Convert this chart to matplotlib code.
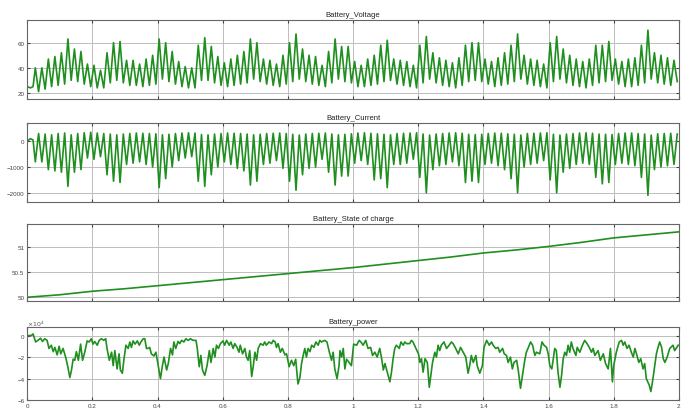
import numpy as np
from matplotlib import pyplot as plt

# Battery scope traces

# voltage: start, then peaks at 0.025 + 0.02k and troughs in between
v_start = [25, 24, 25]
v_peaks = [40, 40, 47, 49, 52, 63, 55, 53, 43,
           42, 38, 52, 60, 61, 46, 46, 43, 47, 50, 63, 60, 53, 45, 41, 40, 58, 64, 57, 49,
           44, 47, 50, 53, 63, 60, 47, 46, 43, 50, 60, 67, 55, 50, 49, 42, 53, 63, 57, 57,
           45, 42, 47, 50, 58, 62, 47, 46, 45, 42, 58, 65, 52, 48, 46, 44, 48, 58, 60, 60,
           47, 45, 48, 52, 58, 67, 50, 47, 46, 43, 60, 65, 55, 50, 47, 45, 47, 58, 58, 61,
           47, 45, 47, 48, 58, 70, 52, 50, 48, 46]
v_troughs = [21, 23, 25, 26, 27, 30, 29, 27, 25,
             24, 24, 28, 30, 28, 26, 26, 25, 26, 27, 31, 29, 27, 25, 24, 24, 30, 30, 28, 26,
             25, 26, 27, 28, 31, 29, 27, 26, 25, 27, 29, 31, 29, 27, 26, 25, 28, 31, 29, 28,
             25, 25, 26, 27, 29, 30, 27, 26, 25, 24, 28, 31, 28, 26, 25, 24, 26, 29, 30, 29,
             27, 25, 26, 27, 29, 31, 27, 26, 25, 24, 29, 31, 28, 26, 25, 24, 26, 28, 29, 30,
             27, 25, 25, 26, 28, 31, 28, 27, 26, 29]

# current: minima line up with voltage peaks, maxima with voltage troughs
i_start = [0, 100, 50]
i_mins = [-800, -800, -1100, -1150, -1200, -1750, -1200, -1100, -650,
          -700, -600, -1300, -1550, -1600, -900, -850, -800, -900, -1000, -1800, -1450, -1000, -750, -650, -600, -1550, -1750, -1300, -1000,
          -800, -900, -1050, -1150, -1700, -1550, -900, -850, -750, -1050, -1550, -1900, -1300, -1050, -1000, -700, -1200, -1700, -1350, -1350,
          -850, -750, -900, -1500, -1450, -1800, -900, -900, -850, -700, -1400, -2000, -1100, -950, -900, -800, -950, -1600, -1550, -1600,
          -900, -850, -950, -1100, -1450, -2000, -1000, -900, -850, -750, -1500, -2000, -1200, -1050, -900, -850, -900, -1400, -1650, -1600,
          -900, -850, -900, -950, -1400, -2100, -1100, -1000, -950, -900]
i_maxs = [300, 280, 250, 300, 320, 250, 300, 330, 350,
          320, 300, 280, 250, 280, 300, 320, 310, 300, 290, 250, 270, 300, 320, 330, 320, 260, 250, 280, 300,
          320, 310, 300, 280, 250, 270, 300, 310, 320, 300, 270, 240, 280, 300, 310, 320, 280, 250, 270, 290,
          320, 330, 310, 290, 270, 250, 300, 310, 320, 330, 280, 240, 280, 300, 320, 330, 310, 270, 260, 270,
          300, 320, 310, 290, 270, 240, 300, 310, 320, 330, 270, 240, 280, 300, 320, 330, 310, 280, 270, 260,
          300, 320, 320, 300, 280, 240, 290, 300, 310, 280]

# state of charge every 0.1 s
soc_t = np.arange(0, 2.01, 0.1)
soc = [50.0, 50.05, 50.12, 50.17, 50.23, 50.29, 50.35, 50.41, 50.47, 50.53, 50.59,
       50.66, 50.73, 50.80, 50.88, 50.94, 51.01, 51.09, 51.18, 51.24, 51.30]

# power (x1e4)
pw_t = [0, 0.013, 0.018, 0.026, 0.033, 0.041, 0.047, 0.054, 0.061, 0.067, 0.074, 0.080, 0.085, 0.092,
        0.098, 0.103, 0.110, 0.118, 0.124, 0.131, 0.136, 0.141, 0.146, 0.151, 0.157, 0.164, 0.170, 0.177,
        0.184, 0.190, 0.197, 0.202, 0.207, 0.215, 0.221, 0.228, 0.235, 0.241, 0.245, 0.252, 0.259, 0.264,
        0.269, 0.276, 0.282, 0.286, 0.292, 0.297, 0.303, 0.310, 0.315, 0.320, 0.325, 0.331, 0.338, 0.344,
        0.349, 0.356, 0.361, 0.366, 0.371, 0.376, 0.381, 0.389, 0.395, 0.402, 0.409, 0.415, 0.420, 0.428,
        0.433, 0.440, 0.446, 0.450, 0.456, 0.463, 0.468, 0.474, 0.481, 0.487, 0.494, 0.501, 0.509, 0.518,
        0.522, 0.528, 0.533, 0.538, 0.545, 0.552, 0.559, 0.564, 0.571, 0.576, 0.581, 0.587, 0.593, 0.601,
        0.606, 0.612, 0.620, 0.625, 0.632, 0.637, 0.644, 0.650, 0.654, 0.661, 0.668, 0.673, 0.678, 0.683,
        0.689, 0.694, 0.699, 0.704, 0.709, 0.716, 0.724, 0.729, 0.734, 0.742, 0.750, 0.755, 0.761, 0.765,
        0.770, 0.777, 0.783, 0.791, 0.796, 0.804, 0.811, 0.818, 0.824, 0.831, 0.837, 0.842, 0.847, 0.852,
        0.857, 0.862, 0.868, 0.873, 0.880, 0.886, 0.893, 0.898, 0.903, 0.913, 0.920, 0.927, 0.934, 0.939,
        0.944, 0.951, 0.957, 0.960, 0.965, 0.970, 0.975, 0.980, 0.988, 0.995, 1.002,
        1.011, 1.019, 1.024, 1.031, 1.039, 1.046, 1.054, 1.060, 1.067, 1.074, 1.082, 1.087, 1.093, 1.098,
        1.105, 1.113, 1.118, 1.123, 1.128, 1.133, 1.142, 1.147, 1.154, 1.159, 1.164, 1.174, 1.179, 1.184,
        1.193, 1.201, 1.205, 1.210, 1.215, 1.221, 1.228, 1.234, 1.238, 1.244, 1.251, 1.256, 1.261, 1.266,
        1.271, 1.279, 1.287, 1.295, 1.302, 1.307, 1.315, 1.323, 1.330, 1.338, 1.346, 1.353, 1.358, 1.363,
        1.369, 1.377, 1.381, 1.389, 1.397, 1.402, 1.410, 1.418, 1.425, 1.430, 1.438, 1.445, 1.450, 1.459,
        1.464, 1.471, 1.476, 1.483, 1.489, 1.494, 1.502, 1.507, 1.514, 1.520, 1.527, 1.532, 1.538, 1.545,
        1.551, 1.558, 1.563, 1.573, 1.580, 1.586, 1.594, 1.599, 1.604, 1.610, 1.614, 1.619, 1.624, 1.629,
        1.635, 1.640, 1.645, 1.650, 1.655, 1.660, 1.665, 1.670, 1.675, 1.684, 1.688, 1.696, 1.704, 1.711,
        1.718, 1.725, 1.732, 1.737, 1.742, 1.752, 1.759, 1.768, 1.775, 1.783, 1.790, 1.796, 1.800, 1.808,
        1.817, 1.824, 1.829, 1.834, 1.841, 1.847, 1.854, 1.860, 1.865, 1.870, 1.877, 1.883, 1.890, 1.895,
        1.900, 1.909, 1.914, 1.919, 1.926, 1.931, 1.936, 1.941, 1.947, 1.952, 1.957, 1.964, 1.972, 1.982,
        1.987, 1.998]
pw_v = [0, 0, 0.15, -0.6, -0.45, -0.25, -0.55, -0.3, -0.45, -1.2, -0.9, -1.5, -1.1, -1.8,
        -1.0, -1.7, -1.2, -2.0, -2.8, -3.9, -3.2, -2.2, -2.3, -1.5, -2.3, -0.8, -2.3, -1.5,
        -0.5, -0.6, -0.3, -0.8, -0.55, -0.9, -0.45, -0.3, -0.45, -0.3, -1.2, -2.3, -1.55, -2.8,
        -1.4, -3.1, -1.7, -3.2, -3.5, -2.2, -0.9, -1.2, -0.6, -1.1, -0.5, -0.8, -0.5, -0.9,
        -0.6, -0.3, -0.3, -1.2, -1.2, -1.1, -1.7, -1.9, -1.55, -2.8, -4.0, -2.8, -2.0, -3.2,
        -2.6, -1.2, -1.8, -0.6, -1.2, -0.55, -0.75, -0.45, -0.6, -0.3, -0.45, -0.3, -0.45, -0.45,
        -1.2, -2.9, -1.85, -3.2, -3.7, -2.8, -1.4, -2.5, -1.2, -2.0, -0.9, -1.2, -0.75, -0.5,
        -0.9, -0.45, -0.9, -0.6, -1.2, -0.75, -1.1, -1.55, -0.9, -1.7, -1.2, -2.0, -2.3, -1.4,
        -3.8, -2.8, -1.55, -2.3, -1.2, -0.75, -0.9, -0.6, -0.9, -0.6, -0.75, -0.45, -0.6, -1.1,
        -0.75, -1.55, -1.2, -1.8, -1.7, -2.9, -2.3, -2.8, -2.2, -4.5, -3.9, -2.6, -1.85, -1.2,
        -2.0, -1.2, -1.5, -0.9, -1.1, -0.6, -0.9, -0.45, -0.6, -0.45, -0.6, -1.5, -2.3, -1.55,
        -3.1, -4.0, -2.8, -1.4, -2.0, -1.2, -3.1, -2.2, -2.5, -2.8, -0.8,
        -0.9, -0.45, -0.6, -0.9, -0.45, -1.2, -1.1, -1.85, -1.55, -2.0, -1.2, -2.0, -3.2, -2.6,
        -3.4, -4.3, -3.4, -2.15, -1.2, -0.9, -1.2, -0.6, -0.9, -0.6, -0.75, -0.75, -0.45, -0.6,
        -1.2, -1.7, -2.5, -2.15, -3.4, -2.15, -2.5, -4.8, -3.85, -2.5, -1.55, -2.0, -0.9, -1.4,
        -0.9, -0.6, -1.2, -0.9, -0.6, -0.75, -1.2, -1.7, -1.1, -1.55, -2.0, -3.5, -2.8, -1.85,
        -2.5, -1.85, -2.8, -3.5, -2.8, -1.1, -0.45, -0.9, -0.6, -0.9, -1.2, -1.1, -1.55, -1.2,
        -1.7, -1.85, -2.5, -2.0, -3.1, -2.5, -2.3, -3.2, -4.9, -3.7, -2.3, -1.55, -1.1, -0.6,
        -0.9, -1.85, -1.55, -1.7, -0.6, -0.9, -1.1, -1.7, -2.8, -3.1, -2.3, -1.2, -1.4, -3.4,
        -4.8, -3.7, -2.15, -1.55, -1.85, -0.9, -1.55, -0.6, -1.2, -1.85, -1.1, -1.55, -0.9, -0.45,
        -0.75, -1.1, -1.55, -1.2, -1.85, -1.4, -2.3, -1.7, -2.6, -3.1, -1.2, -4.3, -2.8, -1.55,
        -0.6, -0.45, -0.9, -0.6, -1.2, -0.9, -1.55, -2.0, -1.2, -1.7, -2.5, -2.15, -3.1, -2.6,
        -4.0, -4.6, -5.2, -4.3, -2.8, -1.7, -1.1, -0.6, -1.1, -2.15, -2.5, -2.0, -1.2, -0.9,
        -1.4, -0.9]

# build the alternating extrema sequences
ext_t = np.arange(len(v_peaks) * 2) * 0.01 + 0.025
v_ext = np.ravel(np.column_stack([v_peaks, v_troughs]))
i_ext = np.ravel(np.column_stack([i_mins, i_maxs]))
start_t = [0, 0.01, 0.018]
volt_t = np.concatenate([start_t, ext_t])
volt = np.concatenate([v_start, v_ext])
curr = np.concatenate([i_start, i_ext])

green = '#1f8f1f'
plt.rcParams['font.family'] = ['Liberation Sans', 'DejaVu Sans']

fig = plt.figure(figsize=(6.97, 4.14), dpi=100)
left, width = 0.039, 0.935
rows = [(0.758, 0.191), (0.510, 0.190), (0.271, 0.186), (0.031, 0.177)]
titles = ['Battery_Voltage', 'Battery_Current', 'Battery_State of charge', 'Battery_power']
axes = [fig.add_axes([left, b, width, h]) for b, h in rows]

axes[0].plot(volt_t, volt, color=green, lw=1.2)
axes[0].set_ylim(15, 78)
axes[0].set_yticks([20, 40, 60])

axes[1].plot(volt_t, curr, color=green, lw=1.2)
axes[1].set_ylim(-2350, 700)
axes[1].set_yticks([-2000, -1000, 0])

axes[2].plot(soc_t, soc, color=green, lw=1.2)
axes[2].set_ylim(49.93, 51.46)
axes[2].set_yticks([50, 50.5, 51])
axes[2].set_yticklabels(['50', '50.5', '51'])

axes[3].plot(pw_t, pw_v, color=green, lw=1.2)
axes[3].set_ylim(-6, 0.8)
axes[3].set_yticks([-6, -4, -2, 0])
axes[3].text(0, 1.02, r'$\times10^4$', transform=axes[3].transAxes, fontsize=4.5, color='#555555')

for ax, title in zip(axes, titles):
    ax.set_xlim(0, 2)
    ax.set_xticks(np.arange(0, 2.01, 0.2))
    ax.grid(True, color='#bdbdbd', lw=0.7)
    ax.set_axisbelow(True)
    ax.tick_params(direction='in', length=2.5, labelsize=4.5, colors='#444444', pad=2,
                   top=True, right=True)
    for s in ax.spines.values():
        s.set_color('#666666')
        s.set_linewidth(0.8)
    ax.set_title(title, fontsize=5.5, pad=3, color='#222222')
    if ax is not axes[3]:
        ax.set_xticklabels([])

axes[3].set_xticklabels(['0', '0.2', '0.4', '0.6', '0.8', '1', '1.2', '1.4', '1.6', '1.8', '2'])

fig.savefig('out.png', dpi=100)
